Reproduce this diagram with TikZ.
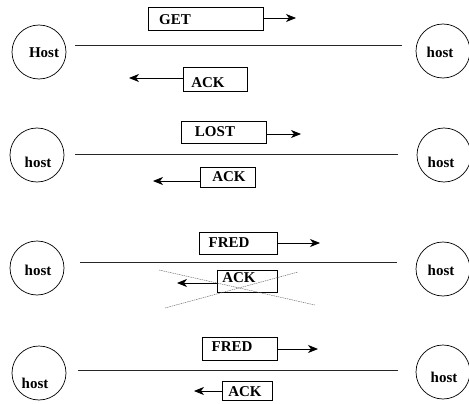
\documentclass[tikz,border=0pt]{standalone}
\usepackage{fontspec}
\setmainfont{Liberation Serif}
\usetikzlibrary{arrows.meta}
\begin{document}
\begin{tikzpicture}[x=1pt,y=-1pt,
  hostc/.style={draw,circle,line width=0.7pt,minimum size=54pt,inner sep=0pt},
  lbl/.style={font=\bfseries\fontsize{15}{15}\selectfont,inner sep=0pt},
  pkt/.style={draw,line width=0.7pt,rectangle,inner sep=0pt},
  wire/.style={line width=0.9pt,draw=black!85},
  msg/.style={line width=0.8pt,-{Stealth[length=10pt,width=8pt,inset=3pt]}},
  cross/.style={draw=black!60,line width=0.45pt,dash pattern=on 1.5pt off 0.8pt}]
\useasboundingbox (0,0) rectangle (469,404);
% ---------- Row 1
\node[hostc] (l1) at (39,52) {};
\node[lbl] (l1t) at (44,53) {Host};
\node[hostc] (r1) at (443,51) {};
\node[lbl] (r1t) at (440,52) {host};
\coordinate (w1a) at (75,45); \coordinate (w1b) at (402,45);
\draw[wire] (w1a) -- (w1b);
\node[pkt,minimum width=115pt,minimum height=23pt] (p1) at (205.5,18.5) {};
\node[lbl] (p1t) at (175,20) {GET};
\coordinate (p1e) at (296,18);
\draw[msg] (p1.east |- p1e) -- (p1e);
\node[pkt,minimum width=64pt,minimum height=24pt] (a1) at (215,79) {};
\node[lbl] (a1t) at (208,83) {ACK};
\coordinate (a1e) at (129,78);
\draw[msg] (a1.west |- a1e) -- (a1e);
% ---------- Row 2
\node[hostc] (l2) at (37,155) {};
\node[lbl] (l2t) at (38,162) {host};
\node[hostc] (r2) at (444,155) {};
\node[lbl] (r2t) at (441,162) {host};
\coordinate (w2a) at (75,154); \coordinate (w2b) at (398,154);
\draw[wire] (w2a) -- (w2b);
\node[pkt,minimum width=85pt,minimum height=22pt] (p2) at (223.5,132) {};
\node[lbl] (p2t) at (215,132) {LOST};
\coordinate (p2e) at (301,134);
\draw[msg] (p2.east |- p2e) -- (p2e);
\node[pkt,minimum width=55pt,minimum height=20pt] (a2) at (227.5,177) {};
\node[lbl] (a2t) at (229,177) {ACK};
\coordinate (a2e) at (153,181);
\draw[msg] (a2.west |- a2e) -- (a2e);
% ---------- Row 3
\node[hostc] (l3) at (37,268) {};
\node[lbl] (l3t) at (38,270) {host};
\node[hostc] (r3) at (443,269) {};
\node[lbl] (r3t) at (441,270) {host};
\coordinate (w3a) at (80,262); \coordinate (w3b) at (397,262);
\draw[wire] (w3a) -- (w3b);
\node[pkt,minimum width=78pt,minimum height=22pt] (p3) at (238,243) {};
\node[lbl] (p3t) at (229,243) {FRED};
\coordinate (p3e) at (320,243);
\draw[msg] (p3.east |- p3e) -- (p3e);
\node[pkt,minimum width=60pt,minimum height=22pt] (a3) at (247,281) {};
\node[lbl] (a3t) at (239,278) {ACK};
\coordinate (a3e) at (177,283);
\draw[msg] (a3.west |- a3e) -- (a3e);
\coordinate (x1a) at (159,270); \coordinate (x1b) at (315,305);
\coordinate (x2a) at (165,308); \coordinate (x2b) at (298,272);
\draw[cross] (x1a) -- (x1b);
\draw[cross] (x2a) -- (x2b);
% ---------- Row 4
\node[hostc] (l4) at (39,373) {};
\node[lbl] (l4t) at (35,383) {host};
\node[hostc] (r4) at (443,372) {};
\node[lbl] (r4t) at (444,377) {host};
\coordinate (w4a) at (78,370); \coordinate (w4b) at (398,370);
\draw[wire] (w4a) -- (w4b);
\node[pkt,minimum width=75pt,minimum height=23pt] (p4) at (239.5,348.5) {};
\node[lbl] (p4t) at (232,347) {FRED};
\coordinate (p4e) at (318,349);
\draw[msg] (p4.east |- p4e) -- (p4e);
\node[pkt,minimum width=50pt,minimum height=19pt] (a4) at (247,390.5) {};
\node[lbl] (a4t) at (245,392) {ACK};
\coordinate (a4e) at (194,391);
\draw[msg] (a4.west |- a4e) -- (a4e);
\end{tikzpicture}
\end{document}
